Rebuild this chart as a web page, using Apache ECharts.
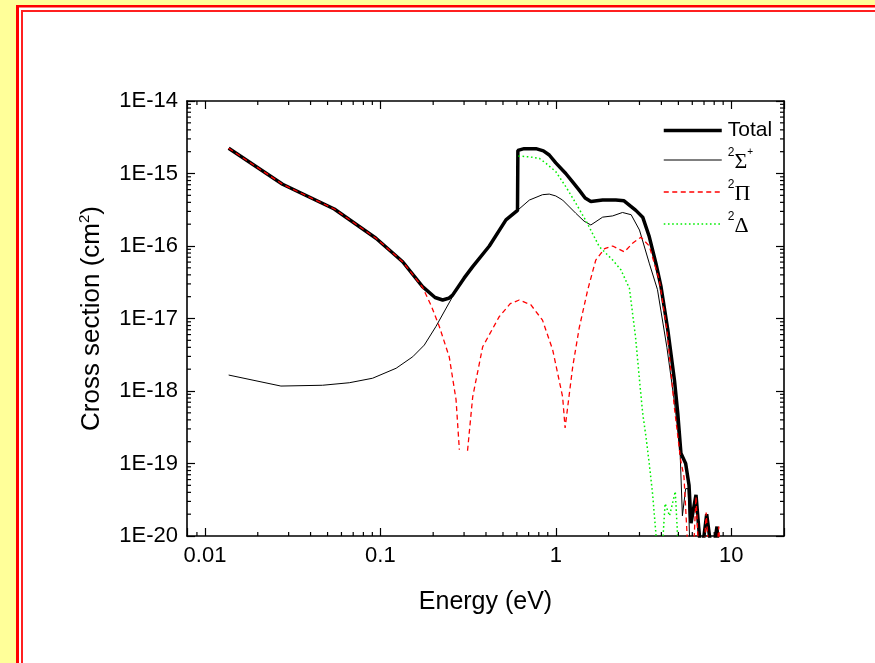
<!DOCTYPE html>
<html>
<head>
<meta charset="utf-8">
<script src="https://cdn.jsdelivr.net/npm/echarts@6/dist/echarts.min.js"></script>
<style>
  html, body { margin: 0; padding: 0; background: #fff; }
  #main { width: 875px; height: 663px; }
</style>
</head>
<body>
<div id="main"></div>
<script>
// axis ranges and tick labels
var X_MIN = 0.0079, X_MAX = 20;
var Y_MIN = 1e-20, Y_MAX = 1e-14;
var xTickLabels = { '-2': '0.01', '-1': '0.1', '0': '1', '1': '10' };
var yTickLabels = { '-20': '1E-20', '-19': '1E-19', '-18': '1E-18', '-17': '1E-17', '-16': '1E-16', '-15': '1E-15', '-14': '1E-14' };
var minorMantissas = [2, 3, 4, 5, 6, 7, 8, 9];
var xDecades = [0.01, 0.1, 1];
var yDecades = [1e-20, 1e-19, 1e-18, 1e-17, 1e-16, 1e-15];

// Total
var totalE = [0.01365, 0.0277, 0.0546, 0.0944, 0.134, 0.174, 0.205, 0.2265, 0.245, 0.258, 0.30, 0.336, 0.418, 0.52, 0.605, 0.608,
  0.66, 0.771, 0.85, 0.918, 1.0, 1.14, 1.25, 1.36, 1.47, 1.585, 1.85, 2.2, 2.45, 2.86, 3.13, 3.41, 3.72, 3.98, 4.35, 4.75, 4.96,
  5.17, 5.5, 5.75, 5.9, 6.3, 6.75, 7.25, 7.8, 8.3, 8.7];
var totalSigma = [2.23e-15, 7.1e-16, 3.24e-16, 1.28e-16, 6.07e-17, 2.75e-17, 1.95e-17, 1.8e-17, 1.9e-17, 2.1e-17, 3.6e-17, 5.2e-17, 1.0e-16, 2.29e-16, 3.1e-16, 2.08e-15,
  2.2e-15, 2.2e-15, 2.05e-15, 1.8e-15, 1.4e-15, 1.0e-15, 7.6e-16, 5.9e-16, 4.6e-16, 4.1e-16, 4.3e-16, 4.3e-16, 4.2e-16, 3.1e-16, 2.5e-16, 1.35e-16, 5.8e-17, 2.75e-17, 7e-18, 1.4e-18, 4.9e-19,
  1.38e-19, 1.0e-19, 5e-20, 1.5e-20, 3.7e-20, 5e-21, 2.0e-20, 5e-21, 1.35e-20, 1e-21];

// 2Sigma+
var sigmaE = [0.01365, 0.0271, 0.0468, 0.0665, 0.0903, 0.123, 0.153, 0.178, 0.207, 0.258, 0.30, 0.336, 0.418, 0.52, 0.605, 0.707,
  0.84, 0.918, 1.0, 1.094, 1.30, 1.45, 1.585, 1.85, 2.11, 2.4, 2.69, 3.0, 3.41, 3.8, 4.3, 4.75, 5.1, 5.27, 5.5, 5.68, 5.95];
var sigmaVals = [1.66e-18, 1.17e-18, 1.2e-18, 1.3e-18, 1.5e-18, 2.06e-18, 2.97e-18, 4.3e-18, 7.7e-18, 2.0e-17, 3.6e-17, 5.2e-17, 1.0e-16, 2.29e-16, 3.1e-16, 4.3e-16,
  5.1e-16, 5.2e-16, 4.9e-16, 4.3e-16, 2.83e-16, 2.2e-16, 1.95e-16, 2.5e-16, 2.6e-16, 2.9e-16, 2.7e-16, 1.66e-16, 5.8e-17, 2.5e-17, 4e-18, 7e-19, 1.7e-19, 1.9e-20, 4.5e-20, 4.5e-20, 1e-21];

// 2Pi
var piE = [0.01365, 0.0277, 0.0546, 0.0944, 0.134, 0.174, 0.195, 0.217, 0.247, 0.27, 0.282, 0.298, 0.314, 0.336, 0.383, 0.476, 0.55, 0.619, 0.72,
  0.84, 0.96, 1.094, 1.13, 1.25, 1.36, 1.52, 1.69, 1.9, 2.11, 2.46, 2.75, 3.06, 3.41, 3.89, 4.3, 4.74, 5.15, 5.38, 5.9, 6.3, 6.75, 7.2, 7.8, 8.5, 8.9];
var piVals = [2.23e-15, 7.1e-16, 3.24e-16, 1.28e-16, 6.07e-17, 2.7e-17, 1.5e-17, 7.7e-18, 2.95e-18, 7.6e-19, 1.55e-19, null, 1.5e-19, 8.3e-19, 4.07e-18, 1.06e-17, 1.6e-17, 1.8e-17, 1.55e-17,
  9.5e-18, 3.7e-18, 8.3e-19, 3.1e-19, 2.2e-18, 7.4e-18, 2.47e-17, 6.4e-17, 9.2e-17, 1.0e-16, 8.3e-17, 1.1e-16, 1.32e-16, 1.0e-16, 3.4e-17, 7e-18, 6e-19, 1.12e-19, 6.6e-20, 1e-21, 3.5e-20, 1e-21, 2.1e-20, 1e-21, 1.35e-20, 1e-21];

// 2Delta
var deltaE = [0.612, 0.70, 0.805, 0.88, 1.0, 1.14, 1.30, 1.49, 1.77, 2.11, 2.35, 2.63, 2.85, 3.02, 3.13, 3.27, 3.41, 3.56, 3.72, 3.85, 4.2, 4.45, 4.8, 5.2];
var deltaVals = [1.74e-15, 1.7e-15, 1.62e-15, 1.38e-15, 1.06e-15, 6.6e-16, 3.9e-16, 2.2e-16, 9.8e-17, 6.4e-17, 4.7e-17, 2.6e-17, 5.5e-18, 1.2e-18, 4.9e-19, 2.3e-19, 1e-19, 3.9e-20, 1.1e-20, 1e-21, 2.8e-20, 1.9e-20, 4.1e-20, 1e-21];

function pairs(xs, ys) {
  return xs.map(function (x, i) { return [x, ys[i]]; });
}

var minorX = [[0.009, Y_MIN]];
xDecades.forEach(function (d) {
  minorMantissas.forEach(function (m) { minorX.push([m * d, Y_MIN]); });
});
var minorY = [];
yDecades.forEach(function (d) {
  minorMantissas.forEach(function (m) { minorY.push([X_MIN, m * d]); });
});

var FONT = 'Liberation Sans, Arial, sans-serif';
var tickLine = { color: '#000', width: 1.2 };

function renderMinorX(params, api) {
  var b = api.coord([api.value(0), Y_MIN]);
  var t = api.coord([api.value(0), Y_MAX]);
  return { type: 'group', children: [
    { type: 'line', shape: { x1: b[0], y1: b[1], x2: b[0], y2: b[1] - 4 }, style: { stroke: '#000', lineWidth: 1.2 } },
    { type: 'line', shape: { x1: t[0], y1: t[1], x2: t[0], y2: t[1] + 4 }, style: { stroke: '#000', lineWidth: 1.2 } }
  ]};
}
function renderMinorY(params, api) {
  var l = api.coord([X_MIN, api.value(1)]);
  var r = api.coord([X_MAX, api.value(1)]);
  return { type: 'group', children: [
    { type: 'line', shape: { x1: l[0], y1: l[1], x2: l[0] + 4, y2: l[1] }, style: { stroke: '#000', lineWidth: 1.2 } },
    { type: 'line', shape: { x1: r[0], y1: r[1], x2: r[0] - 4, y2: r[1] }, style: { stroke: '#000', lineWidth: 1.2 } }
  ]};
}

function isDecade(v) {
  var l = Math.log10(v);
  return Math.abs(l - Math.round(l)) < 1e-6 ? Math.round(l) : null;
}

var baseAxis = {
  type: 'log',
  logBase: 10,
  axisLine: { show: true, lineStyle: { color: '#000', width: 1.6 } },
  axisTick: { show: true, inside: true, length: 8, lineStyle: tickLine },
  splitLine: { show: false },
  minorTick: { show: false }
};

var myChart = echarts.init(document.getElementById('main'));
var option = {
  backgroundColor: '#fff',
  animation: false,
  graphic: [
    { type: 'rect', shape: { x: 0, y: 0, width: 16, height: 663 }, style: { fill: '#ffff99' }, silent: true },
    { type: 'rect', shape: { x: 0, y: 0, width: 875, height: 5 }, style: { fill: '#ffff99' }, silent: true },
    { type: 'rect', shape: { x: 16, y: 5, width: 3, height: 658 }, style: { fill: '#ff0000' }, silent: true },
    { type: 'rect', shape: { x: 16, y: 5, width: 859, height: 2.5 }, style: { fill: '#ff0000' }, silent: true },
    { type: 'rect', shape: { x: 21, y: 10, width: 2, height: 653 }, style: { fill: '#ff2020' }, silent: true },
    { type: 'rect', shape: { x: 21, y: 10, width: 854, height: 2 }, style: { fill: '#ff2020' }, silent: true }
  ],
  grid: { left: 187, right: 91, top: 101, bottom: 127, show: false },
  legend: {
    orient: 'vertical',
    left: 657,
    top: 115,
    itemWidth: 58,
    itemHeight: 14,
    itemGap: 6,
    data: ['Total', 'Sigma', 'Pi', 'Delta'],
    itemStyle: { opacity: 0 },
    lineStyle: { width: 'inherit', type: 'inherit', color: 'inherit' },
    formatter: function (name) {
      if (name === 'Total') return '{t|Total}';
      if (name === 'Sigma') return '{s|2}{g|\u03A3}{p|+}';
      if (name === 'Pi') return '{s|2}{g|\u03A0}';
      return '{s|2}{g|\u0394}';
    },
    textStyle: {
      color: '#000',
      padding: [0, 0, 0, 1],
      rich: {
        t: { fontFamily: FONT, fontSize: 21, color: '#000', lineHeight: 30 },
        s: { fontFamily: FONT, fontSize: 12, color: '#000', lineHeight: 12, verticalAlign: 'top' },
        g: { fontFamily: 'Liberation Serif, serif', fontSize: 22, color: '#000', lineHeight: 26, verticalAlign: 'bottom' },
        p: { fontFamily: FONT, fontSize: 10, color: '#000', lineHeight: 12, verticalAlign: 'top' }
      }
    }
  },
  xAxis: [
    Object.assign({}, baseAxis, {
      min: X_MIN, max: X_MAX, position: 'bottom',
      name: 'Energy (eV)', nameLocation: 'middle', nameGap: 54,
      nameTextStyle: { color: '#000', fontFamily: FONT, fontSize: 25 },
      axisLabel: {
        color: '#000', fontFamily: FONT, fontSize: 22, margin: 9,
        formatter: function (v) { var d = isDecade(v); return d === null ? '' : (xTickLabels[d] || ''); }
      }
    }),
    Object.assign({}, baseAxis, {
      min: X_MIN, max: X_MAX, position: 'top', axisLabel: { show: false }
    })
  ],
  yAxis: [
    Object.assign({}, baseAxis, {
      min: Y_MIN, max: Y_MAX, position: 'left',
      name: 'Cross section (cm{sup|2})', nameLocation: 'middle', nameGap: 80, nameRotate: 90,
      nameTextStyle: {
        color: '#000', fontFamily: FONT, fontSize: 26, lineHeight: 30,
        rich: { sup: { fontFamily: FONT, fontSize: 15, color: '#000', lineHeight: 15, verticalAlign: 'top' } }
      },
      axisLabel: {
        color: '#000', fontFamily: FONT, fontSize: 22, margin: 9,
        formatter: function (v) { var d = isDecade(v); return d === null ? '' : (yTickLabels[d] || ''); }
      }
    }),
    Object.assign({}, baseAxis, {
      min: Y_MIN, max: Y_MAX, position: 'right', axisLabel: { show: false }
    })
  ],
  series: [
    { name: 'Total', type: 'line', symbol: 'none', data: pairs(totalE, totalSigma), z: 3,
      lineStyle: { color: '#000', width: 3.5, type: 'solid' }, itemStyle: { color: '#000' } },
    { name: 'Sigma', type: 'line', symbol: 'none', data: pairs(sigmaE, sigmaVals), z: 4,
      lineStyle: { color: '#000', width: 1, type: 'solid' }, itemStyle: { color: '#000' } },
    { name: 'Pi', type: 'line', symbol: 'none', data: pairs(piE, piVals), z: 5, connectNulls: false,
      lineStyle: { color: '#ff0000', width: 1.3, type: [5, 3.5] }, itemStyle: { color: '#ff0000' } },
    { name: 'Delta', type: 'line', symbol: 'none', data: pairs(deltaE, deltaVals), z: 6,
      lineStyle: { color: '#00ee00', width: 1.5, type: [1.6, 2.6] }, itemStyle: { color: '#00ee00' } },
    { name: 'minorX', type: 'custom', data: minorX, renderItem: renderMinorX, silent: true, clip: false, z: 7 },
    { name: 'minorY', type: 'custom', data: minorY, renderItem: renderMinorY, silent: true, clip: false, z: 7 }
  ]
};
myChart.setOption(option);
</script>
</body>
</html>
